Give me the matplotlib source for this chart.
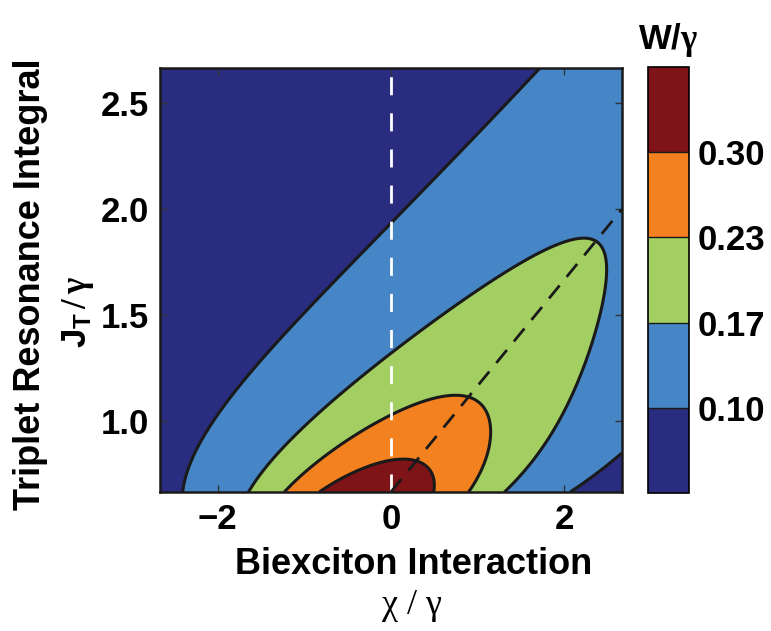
import numpy as np
import matplotlib.pyplot as plt

plt.rcParams['font.family'] = ['Liberation Sans', 'DejaVu Sans']
plt.rcParams['font.weight'] = 'bold'
plt.rcParams['mathtext.fontset'] = 'custom'
plt.rcParams['mathtext.rm'] = 'Liberation Serif'
plt.rcParams['mathtext.it'] = 'Liberation Serif:italic'
plt.rcParams['mathtext.bf'] = 'Liberation Sans:bold'

# axis ranges, in units of gamma
chi_range = [-8 / 3, 8 / 3]
jt_range = [2 / 3, 8 / 3]

# fission rate along chi at fixed J_T is a Lorentzian:
# W/gamma = A(J) / (1 + ((chi - c(J)) / w(J))^2)
# A(J) = a0 + a1 * J^-p,  c(J) = 2J + c0,  w(J) = wmax * tanh(k*J + k0)
peak_floor = 0.122
peak_amp = 0.130
peak_power = 1.6
centre_slope = 2.0
centre_offset = -1.5
width_max = 3.05
width_rate = 1.042
width_shift = -0.215

levels = [0.10, 0.17, 0.23, 0.30]
level_labels = ['0.10', '0.17', '0.23', '0.30']
band_colors = ['#292c7f', '#4686c6', '#a3cf62', '#f48120', '#7f1418']

# resonance line J = 2/3 + chi/2
res_chi = [0.0, 8 / 3]
res_jt = [2 / 3, 2.0]

x_ticks = [-2, 0, 2]
x_ticklabels = ['\u22122', '0', '2']
y_ticks = [1.0, 1.5, 2.0, 2.5]
y_ticklabels = ['1.0', '1.5', '2.0', '2.5']

chi = np.linspace(chi_range[0], chi_range[1], 600)
jt = np.linspace(jt_range[0], jt_range[1], 450)
X, Y = np.meshgrid(chi, jt)
peak = peak_floor + peak_amp * Y ** (-peak_power)
centre = centre_slope * Y + centre_offset
width = width_max * np.tanh(width_rate * Y + width_shift)
W = peak / (1 + ((X - centre) / width) ** 2)

fig = plt.figure(figsize=(7.71, 6.31), dpi=100)
ax = fig.add_axes([0.2075, 0.2203, 0.599, 0.672])

cs = ax.contourf(X, Y, W, levels=[0] + levels + [1], colors=band_colors)
ax.contour(X, Y, W, levels=levels, colors='#1a1a1a', linewidths=2.2)
ax.axvline(0, color='white', lw=2.0, dashes=(6.5, 6.5))
ax.plot(res_chi, res_jt, color='#1a1a1a', lw=2.0, dashes=(6.0, 4.0))

ax.set_xlim(chi_range)
ax.set_ylim(jt_range)
ax.set_xticks(x_ticks)
ax.set_xticklabels(x_ticklabels)
ax.set_yticks(y_ticks)
ax.set_yticklabels(y_ticklabels)
ax.tick_params(direction='in', top=True, right=True, length=5, width=1.0,
               labelsize=25, pad=8, color='#333333')
for s in ax.spines.values():
    s.set_linewidth(1.8)
    s.set_color('#1a1a1a')

# colorbar with equal-sized bands
cax = fig.add_axes([0.8405, 0.2187, 0.0532, 0.675])
cb = fig.colorbar(cs, cax=cax, ticks=levels, spacing='uniform')
cb.ax.set_yticklabels(level_labels)
cb.ax.tick_params(length=0, labelsize=25, pad=6)
cb.outline.set_linewidth(1.2)
for lv in levels:
    cax.axhline(lv, color='#1a1a1a', lw=1.0)

fig.text(0.866, 0.937, r'$\mathbf{W/}\mathrm{\gamma}$', ha='center', va='center', size=25)

# axis titles
fig.text(0.537, 0.105, 'Biexciton Interaction', ha='center', va='center', size=26)
fig.text(0.535, 0.040, 'χ / γ', ha='center', va='center', size=26,
         family='Liberation Serif', weight='normal')
fig.text(0.040, 0.550, 'Triplet Resonance Integral', ha='center', va='center',
         size=26, rotation=90)
fig.text(0.101, 0.505, r'$\mathbf{J_T}\,/\,\mathrm{\gamma}$', ha='center', va='center',
         size=25, rotation=90)

fig.savefig('out.png', dpi=100)
